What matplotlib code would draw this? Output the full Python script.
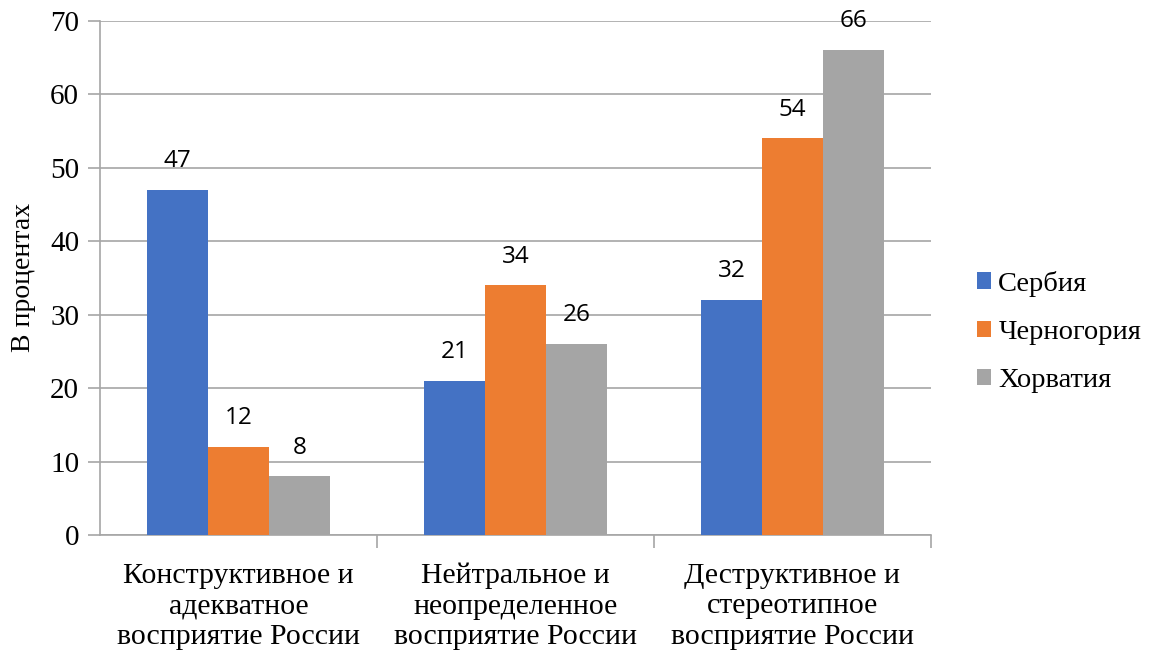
import matplotlib
matplotlib.use("Agg")
import matplotlib.pyplot as plt
import numpy as np

categories = ["Конструктивное и\nадекватное\nвосприятие России",
              "Нейтральное и\nнеопределенное\nвосприятие России",
              "Деструктивное и\nстереотипное\nвосприятие России"]
series_names = ["Сербия", "Черногория", "Хорватия"]
serbia = [47, 21, 32]
montenegro = [12, 34, 54]
croatia = [8, 26, 66]
yticks = [0, 10, 20, 30, 40, 50, 60, 70]
colors = ["#4472C4", "#ED7D31", "#A5A5A5"]

plt.rcParams['font.family'] = ['Liberation Serif', 'DejaVu Serif']

fig = plt.figure(figsize=(11.51, 6.55), dpi=100)
ax = fig.add_axes([100/1151, 120/655, 831/1151, (535-20.7)/655])

x = np.arange(len(categories))
w = 0.22
data = [serbia, montenegro, croatia]
for i, (vals, name, c) in enumerate(zip(data, series_names, colors)):
    pos = x + (i - 1) * w
    bars = ax.bar(pos, vals, width=w, color=c, label=name, zorder=3)
    for b, v in zip(bars, vals):
        ax.annotate(str(v), (b.get_x() + b.get_width()/2, v), xytext=(0, 12),
                    textcoords="offset points", ha="center", va="bottom",
                    fontsize=17.5, family=["Open Sans", "DejaVu Sans"], color="#000000")

ax.set_xlim(-0.5, 2.5)
ax.set_ylim(0, 70)
ax.set_yticks(yticks)
ax.set_yticklabels([str(t) for t in yticks], fontsize=21)
ax.yaxis.grid(True, color="#A6A6A6", linewidth=1.2, zorder=0)
ax.set_axisbelow(True)

ax.set_xticks(x)
ax.set_xticklabels(categories, fontsize=21.5, linespacing=1.22)
ax.tick_params(axis='x', length=0, pad=20)
ax.set_xticks([0.5, 1.5, 2.5], minor=True)
ax.tick_params(axis='x', which='minor', length=9, color="#A6A6A6", width=1.2)
ax.tick_params(axis='y', length=9, color="#A6A6A6", width=1.2, pad=6)

for s in ["top", "right"]:
    ax.spines[s].set_visible(False)
for s in ["left", "bottom"]:
    ax.spines[s].set_color("#A6A6A6")
    ax.spines[s].set_linewidth(1.2)

ax.set_ylabel("В процентах", fontsize=20, labelpad=10)

leg = fig.legend(loc="center left", bbox_to_anchor=(957/1151, 1 - 332/655),
                 frameon=False, fontsize=20.5, handlelength=0.5, handleheight=0.5,
                 handletextpad=0.25, labelspacing=0.82, borderpad=0.2)

fig.savefig("out.png", dpi=100)
